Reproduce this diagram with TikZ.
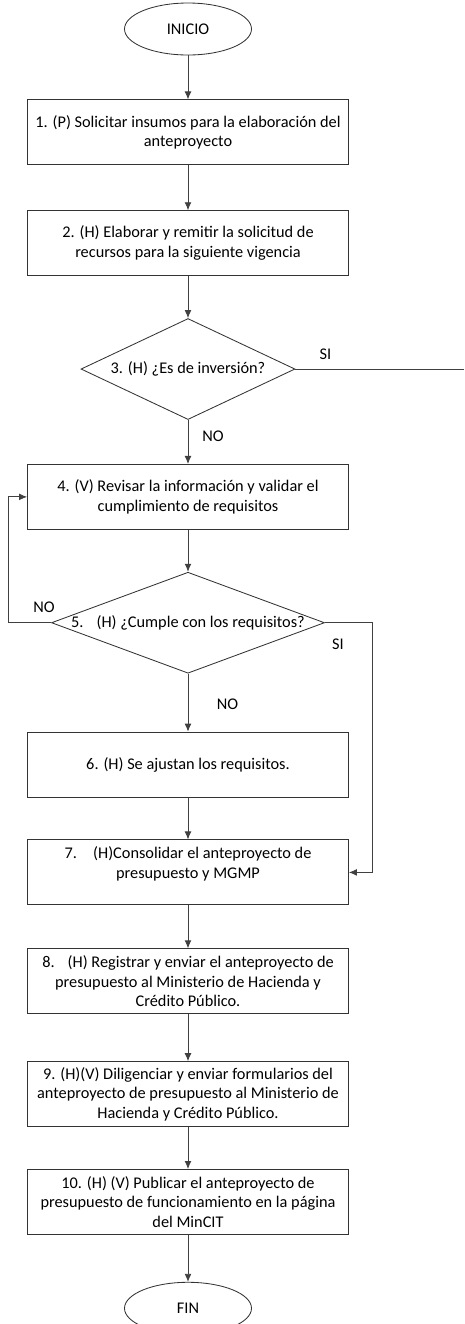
\documentclass[tikz,border=0pt]{standalone}
\usepackage{fontspec}
\setmainfont{Carlito}
\usepackage{tikz}
\usetikzlibrary{positioning,shapes.geometric,arrows.meta}
\tikzset{block/.style={draw=black!80,semithick,minimum width=8.025cm,minimum height=1.625cm,align=center,inner sep=2pt},
         startstop/.style={ellipse,draw=black!80,semithick,minimum width=3.175cm,minimum height=1.3cm},
         decision/.style={diamond,draw=black!80,semithick,aspect=2.1,inner sep=0pt},
         line/.style={draw=black!75,semithick}
}
\tikzstyle{arrow} = [semithick,draw=black!75,-{Latex[length=2mm,width=1.7mm]}]

\begin{document}
\begin{tikzpicture}[font=\fontsize{11.6pt}{13.9pt}\selectfont]
\useasboundingbox (0,0) rectangle (11.6,-33.1);

\node[startstop] (inicio) at (4.7,-0.725) {INICIO};
\node[block,below=1.1cm of inicio] (solicitar) {1. (P) Solicitar insumos para la elaboración del\\anteproyecto};
\node[block,below=1.125cm of solicitar] (elaborar) {2. (H) Elaborar y remitir la solicitud de\\recursos para la siguiente vigencia};
\node[decision,minimum width=5.35cm,minimum height=2.525cm,below=1.05cm of elaborar] (inversion) {\makebox[0pt]{3. (H) ¿Es de inversión?}};
\node[block,below=1.1cm of inversion] (revisar) {4. (V) Revisar la información y validar el\\cumplimiento de requisitos};
\node[decision,minimum width=6.825cm,minimum height=2.525cm,below=1.05cm of revisar] (cumple) {\makebox[0pt]{5.\hspace{0.8em}(H) ¿Cumple con los requisitos?}};
\node[block,below=1.45cm of cumple] (ajustar) {6. (H) Se ajustan los requisitos.};
\node[block,below=1.05cm of ajustar] (consolidar) {7.\quad(H)Consolidar el anteproyecto de\\presupuesto y MGMP\\\mbox{}};
\node[block,below=1.075cm of consolidar] (registrar) {8.\hspace{0.8em}(H) Registrar y enviar el anteproyecto de\\presupuesto al Ministerio de Hacienda y\\Crédito Público.};
\node[block,below=1.175cm of registrar] (diligenciar) {9. (H)(V) Diligenciar y enviar formularios del\\anteproyecto de presupuesto al Ministerio de\\Hacienda y Crédito Público.};
\node[block,below=1.05cm of diligenciar] (publicar) {10. (H) (V) Publicar el anteproyecto de\\presupuesto de funcionamiento en la página\\del MinCIT};
\node[startstop,below=1.175cm of publicar] (fin) {FIN};

\node[draw=none] (si1) at ([xshift=0.75cm,yshift=0.36cm]inversion.east) {SI};
\node[draw=none] (no1) at ([xshift=0.625cm,yshift=-0.4cm]inversion.south) {NO};
\node[draw=none] (no2) at ([xshift=-0.175cm,yshift=0.39cm]cumple.west) {NO};
\node[draw=none] (si2) at ([xshift=0.325cm,yshift=-0.54cm]cumple.east) {SI};
\node[draw=none] (no3) at ([xshift=0.99cm,yshift=-0.76cm]cumple.south) {NO};
\coordinate (siend) at ([xshift=4.225cm]inversion.east);

\draw[arrow] (inicio)--(solicitar);
\draw[arrow] (solicitar)--(elaborar);
\draw[arrow] (elaborar)--(inversion);
\draw[line] (inversion.east)--(siend);
\draw[arrow] (inversion)--(revisar);
\draw[arrow] (revisar)--(cumple);
\draw[arrow] (cumple.west)--++(-1.06cm,0)|-(revisar.west);
\draw[arrow] (cumple.east)--++(1.175cm,0)|-(consolidar.east);
\draw[arrow] (cumple)--(ajustar);
\draw[arrow] (ajustar)--(consolidar);
\draw[arrow] (consolidar)--(registrar);
\draw[arrow] (registrar)--(diligenciar);
\draw[arrow] (diligenciar)--(publicar);
\draw[arrow] (publicar)--(fin);

\end{tikzpicture}
\end{document}
